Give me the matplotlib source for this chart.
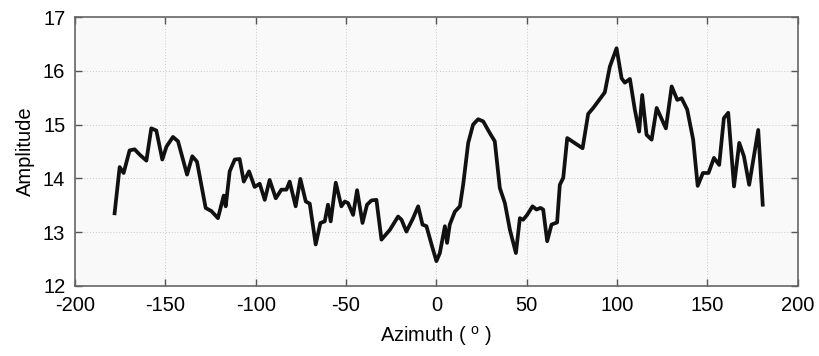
#!/usr/bin/env python3

import matplotlib
matplotlib.use('Agg')
import matplotlib.pyplot as plt

# Azimuth (deg) and amplitude
azimuth = [-178.1, -175.3, -173.1, -169.8, -167.0, -164.2, -160.5, -157.8, -155.0,
           -151.7, -149.4, -145.8, -143.0, -138.0, -135.1, -132.5, -127.7, -124.5,
           -120.9, -117.7, -116.6, -114.4, -111.6, -108.9, -106.6, -103.7, -100.6,
           -97.8, -95.0, -92.3, -88.9, -85.8, -83.0, -81.2, -77.9, -75.3, -72.3,
           -70.1, -66.8, -64.2, -61.8, -60.0, -58.5, -55.7, -52.6, -50.7, -48.9,
           -46.1, -43.9, -40.9, -38.4, -35.9, -33.2, -30.4, -25.8, -21.2, -19.3,
           -16.6, -12.9, -10.1, -7.7, -5.5, -2.7, 0.0, 1.9, 4.7, 5.9, 7.4, 10.2,
           13.0, 14.8, 17.6, 20.3, 23.1, 25.9, 29.6, 32.3, 35.1, 37.9, 40.7, 44.0,
           46.2, 48.0, 50.2, 53.2, 55.4, 57.6, 59.1, 61.3, 63.7, 66.8, 68.3, 70.2,
           72.4, 80.9, 84.0, 86.8, 91.4, 93.2, 96.0, 99.7, 102.5, 104.3, 107.1,
           109.8, 112.2, 113.9, 116.3, 119.1, 121.9, 127.0, 130.2, 133.3, 135.7,
           138.8, 142.1, 144.6, 147.5, 150.6, 153.6, 156.5, 159.1, 161.5, 164.7,
           167.6, 170.2, 173.1, 178.1, 180.6]
amplitude = [13.35, 14.21, 14.10, 14.52, 14.54, 14.44, 14.33, 14.93, 14.89,
             14.35, 14.59, 14.77, 14.69, 14.07, 14.41, 14.31, 13.45, 13.39,
             13.26, 13.68, 13.48, 14.13, 14.35, 14.36, 13.94, 14.13, 13.84,
             13.90, 13.60, 13.97, 13.63, 13.79, 13.79, 13.94, 13.48, 13.99, 13.57,
             13.53, 12.77, 13.17, 13.20, 13.51, 13.20, 13.92, 13.48, 13.57, 13.54,
             13.32, 13.78, 13.17, 13.51, 13.59, 13.60, 12.86, 13.04, 13.29, 13.23,
             13.01, 13.26, 13.48, 13.14, 13.11, 12.77, 12.46, 12.61, 13.11, 12.80, 13.14, 13.38,
             13.48, 13.88, 14.66, 15.00, 15.10, 15.06, 14.84, 14.69, 13.82, 13.54, 13.04, 12.61,
             13.26, 13.23, 13.32, 13.48, 13.42, 13.45, 13.42, 12.83, 13.14, 13.18, 13.88, 14.01,
             14.75, 14.56, 15.20, 15.31, 15.52, 15.60, 16.08, 16.42, 15.86, 15.78, 15.85,
             15.28, 14.87, 15.55, 14.81, 14.72, 15.31, 14.93, 15.71, 15.46, 15.49,
             15.28, 14.72, 13.86, 14.10, 14.10, 14.38, 14.25, 15.12, 15.22, 13.85,
             14.66, 14.41, 13.88, 14.90, 13.51]

xticks = [-200, -150, -100, -50, 0, 50, 100, 150, 200]
yticks = [12, 13, 14, 15, 16, 17]

plt.rcParams['font.family'] = ['Liberation Sans', 'DejaVu Sans']
plt.rcParams['mathtext.fontset'] = 'custom'
plt.rcParams['mathtext.rm'] = 'Liberation Sans'
plt.rcParams['axes.unicode_minus'] = False

fig = plt.figure(figsize=(8.19, 3.56), dpi=100)
ax = fig.add_axes([0.0916, 0.197, 0.8825, 0.755])
ax.set_facecolor('#f9f9f9')

ax.plot(azimuth, amplitude, color='#111111', linewidth=2.7, solid_joinstyle='round')

ax.set_xlim(-200, 200)
ax.set_ylim(12, 17)
ax.set_xticks(xticks)
ax.set_yticks(yticks)
ax.grid(True, linestyle=(0, (1, 2)), linewidth=0.7, color='#c8c8c8')
ax.tick_params(direction='in', top=True, right=True, length=5, width=1,
               color='#555555', labelsize=14.5, pad=7)
for s in ax.spines.values():
    s.set_color('#666666')
    s.set_linewidth(1.2)

ax.set_xlabel(r'Azimuth ( $^{\mathrm{o}}$ )', fontsize=14.5, labelpad=7)
ax.set_ylabel('Amplitude', fontsize=14.5, labelpad=6)

fig.savefig('out.png', dpi=100)
